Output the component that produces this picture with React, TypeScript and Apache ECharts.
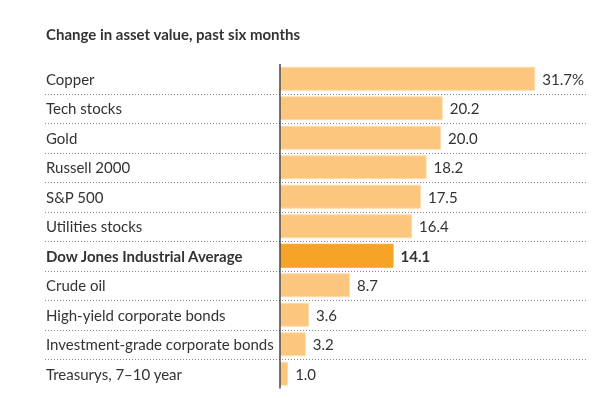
import React, { useEffect, useRef } from "react";
import * as echarts from "echarts";

const categories = [
  "Copper",
  "Tech stocks",
  "Gold",
  "Russell 2000",
  "S&P 500",
  "Utilities stocks",
  "Dow Jones Industrial Average",
  "Crude oil",
  "High-yield corporate bonds",
  "Investment-grade corporate bonds",
  "Treasurys, 7–10 year",
];
const values = [31.7, 20.2, 20.0, 18.2, 17.5, 16.4, 14.1, 8.7, 3.6, 3.2, 1.0];
const highlight = "Dow Jones Industrial Average";
const valueLabels = ["31.7%", "20.2", "20.0", "18.2", "17.5", "16.4", "14.1", "8.7", "3.6", "3.2", "1.0"];

const FONT = "Lato";

export default function App() {
  const ref = useRef<HTMLDivElement>(null);
  useEffect(() => {
    if (!ref.current) return;
    const chart = echarts.init(ref.current, undefined, { renderer: "svg" });
    const separators = categories.slice(0, categories.length - 1).map((_, i) => [i]);
    chart.setOption({
      animation: false,
      title: {
        text: "Change in asset value, past six months",
        left: 46,
        top: 26,
        padding: 0,
        textStyle: { fontFamily: FONT, fontSize: 15, fontWeight: "bold", color: "#333" },
      },
      grid: { left: 45, right: 30, top: 64, bottom: 9.5 },
      xAxis: {
        type: "value",
        min: -29.2,
        max: 38,
        show: false,
      },
      yAxis: {
        type: "category",
        data: categories,
        inverse: true,
        axisLine: { show: false },
        axisTick: { show: false },
        splitLine: { show: false },
        axisLabel: {
          inside: true,
          margin: 1,
          align: "left",
          fontFamily: FONT,
          fontSize: 15,
          color: "#333",
          formatter: (v: string) => (v === highlight ? `{b|${v}}` : v),
          rich: { b: { fontFamily: FONT, fontSize: 15, fontWeight: "bold", color: "#333" } },
        },
      },
      series: [
        {
          type: "custom",
          data: separators,
          silent: true,
          z: 1,
          renderItem: (params: any, api: any) => {
            const i = api.value(0);
            const c = api.coord([0, i]);
            const band = api.size([0, 1])[1];
            const y = Math.round(c[1] + band / 2) + 0.5;
            const cs = params.coordSys;
            return {
              type: "line",
              shape: { x1: cs.x, y1: y, x2: cs.x + cs.width, y2: y },
              style: { stroke: "#888", lineWidth: 1, lineDash: [1, 2] },
            };
          },
        },
        {
          type: "bar",
          z: 2,
          barWidth: 24,
          data: values.map((v, i) => ({
            value: v,
            itemStyle:
              categories[i] === highlight
                ? { color: "#f6a427", borderColor: "#f6a427", borderWidth: 1 }
                : { color: "#fdc67f", borderColor: "#fedcae", borderWidth: 1 },
            label: {
              fontWeight: categories[i] === highlight ? "bold" : "normal",
            },
          })),
          label: {
            show: true,
            position: "right",
            distance: 7,
            fontFamily: FONT,
            fontSize: 15,
            color: "#333",
            formatter: (p: any) => valueLabels[p.dataIndex],
          },
          markLine: {
            silent: true,
            symbol: "none",
            label: { show: false },
            lineStyle: { type: "solid", color: "#444", width: 1.5 },
            data: [{ xAxis: 0 }],
          },
        },
      ],
    });
    return () => chart.dispose();
  }, []);
  return (
    <div
      ref={ref}
      style={{ position: "fixed", left: 0, top: 0, width: 616, height: 398 }}
    />
  );
}
